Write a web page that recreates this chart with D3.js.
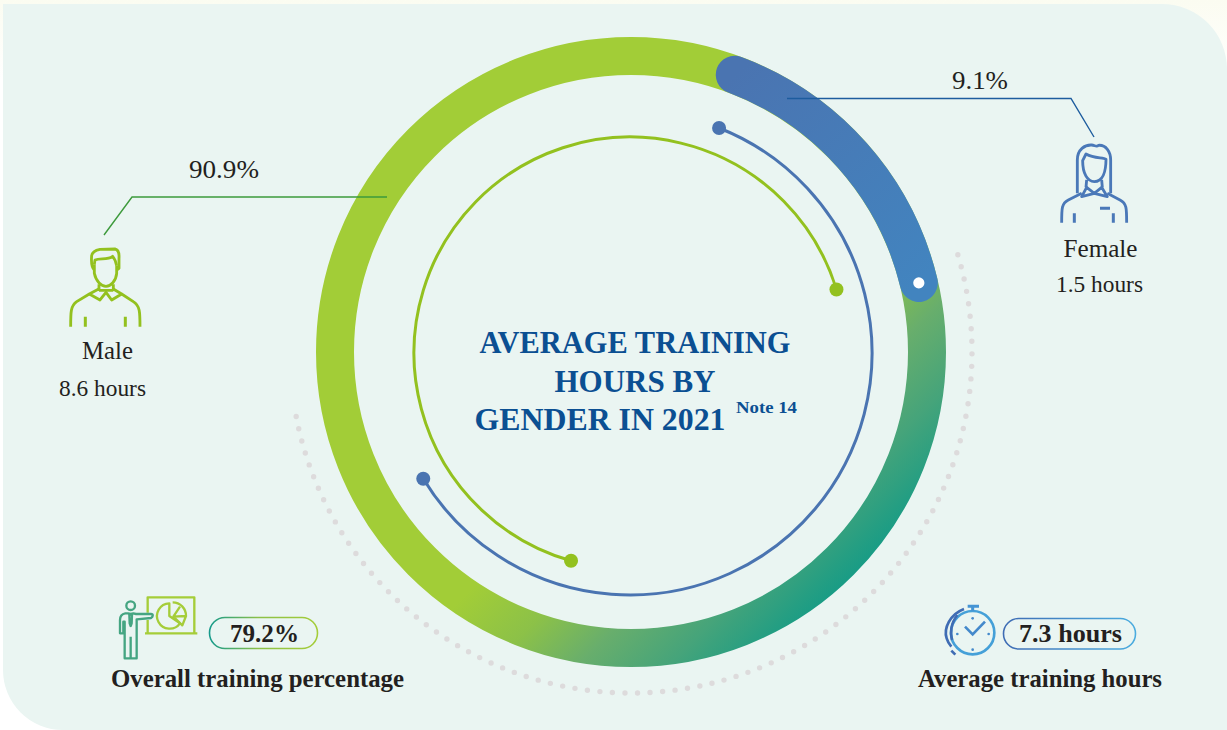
<!DOCTYPE html>
<html>
<head>
<meta charset="utf-8">
<script src="https://cdn.jsdelivr.net/npm/d3@7"></script>
<style>
  html, body { margin: 0; padding: 0; background: #fff; }
  svg { display: block; }
  text { font-family: "Liberation Serif", serif; fill: #231f20; }
</style>
</head>
<body>
<svg id="chart" width="1227" height="730"></svg>
<script>
'use strict'

var genders    = ["Male", "Female"]
var sharePct   = ["90.9%", "9.1%"]
var hoursLabel = ["8.6 hours", "1.5 hours"]
var titleLines = ["AVERAGE TRAINING", "HOURS BY", "GENDER IN 2021"]

// arcs, in turns clockwise from 12 o'clock
// (the ring is not drawn to scale with the percentages)
var ringFemaleTurns = [0.057, 0.2125]
var innerMaleTurns  = [0.544, 1.2025]
var innerFemaleTurns = [0.06, 0.663]
var dottedTurns     = [0.204, 0.72]

var svg = d3.select("#chart")
var defs = svg.append("defs")

function gradient(id, x1, y1, x2, y2, stops){
  let g = defs.append("linearGradient").attr("id", id)
    .attr("gradientUnits", "userSpaceOnUse")
    .attr("x1", x1).attr("y1", y1).attr("x2", x2).attr("y2", y2)
  stops.forEach(s => g.append("stop").attr("offset", s[0]).attr("stop-color", s[1]))
}

gradient("pageBg", 0, 0, 0, 80, [[0, "#fbfcf1"], [1, "#ffffff"]])
gradient("ringGreen", 530, 530, 725, 725, [[0, "#a2cd37"], [0.25, "#8cc148"], [0.47, "#68ae6c"], [0.7, "#46a47a"], [1, "#0e9a88"]])
gradient("ringBlue", 735, 75, 920, 282, [[0, "#4a74b1"], [1, "#4284bf"]])
gradient("pillGreen", 209, 0, 318, 0, [[0, "#149a8c"], [0.45, "#8cc048"], [1, "#a5cd39"]])
gradient("pillBlue", 1003, 0, 1136, 0, [[0, "#3f6cb4"], [1, "#4bacdf"]])

// background panel
svg.append("rect").attr("width", 1227).attr("height", 730).attr("fill", "url(#pageBg)")
svg.append("path")
  .attr("d", "M3,4 H1162 A65,65 0 0 1 1227,69 V730 H63 A60,60 0 0 1 3,670 Z")
  .attr("fill", "#eaf5f2")

var cx = 631, cy = 352
// the thin inner arcs sit a pixel off the big ring
var innerX = 630, innerY = 353
var turn = d3.scaleLinear().domain([0, 1]).range([-Math.PI / 2, 1.5 * Math.PI])

// open arc, so linecaps and dashes work
function arcPath(x, y, r, turns){
  let p = d3.path()
  p.arc(x, y, r, turn(turns[0]), turn(turns[1]))
  return p.toString()
}
function polar(x, y, r, t){
  return [x + r * Math.cos(turn(t)), y + r * Math.sin(turn(t))]
}

// dotted arc
svg.append("path")
  .attr("d", arcPath(cx, cy, 341, dottedTurns))
  .attr("fill", "none")
  .attr("stroke", "#dddbdc")
  .attr("stroke-width", 5.4)
  .attr("stroke-linecap", "round")
  .attr("stroke-dasharray", "0 12.55")

// main ring
svg.append("circle")
  .attr("cx", cx).attr("cy", cy).attr("r", 296)
  .attr("fill", "none")
  .attr("stroke", "url(#ringGreen)")
  .attr("stroke-width", 38)

svg.append("path")
  .attr("d", arcPath(cx, cy, 296, ringFemaleTurns))
  .attr("fill", "none")
  .attr("stroke", "url(#ringBlue)")
  .attr("stroke-width", 38)
  .attr("stroke-linecap", "round")

let whiteDot = polar(cx, cy, 296, ringFemaleTurns[1])
svg.append("circle")
  .attr("cx", whiteDot[0]).attr("cy", whiteDot[1]).attr("r", 5.6)
  .attr("fill", "#fff")

// inner thin arcs with a dot on each end
svg.append("path")
  .attr("d", arcPath(innerX, innerY, 216, innerMaleTurns))
  .attr("fill", "none").attr("stroke", "#93c11f").attr("stroke-width", 3)
svg.append("path")
  .attr("d", arcPath(innerX, innerY, 242, innerFemaleTurns))
  .attr("fill", "none").attr("stroke", "#4a74b1").attr("stroke-width", 3)

svg.selectAll("circle.m").data(innerMaleTurns).enter().append("circle")
  .attr("class", "m")
  .attr("cx", d => polar(innerX, innerY, 216, d)[0]).attr("cy", d => polar(innerX, innerY, 216, d)[1])
  .attr("r", 7).attr("fill", "#93c11f")
svg.selectAll("circle.f").data(innerFemaleTurns).enter().append("circle")
  .attr("class", "f")
  .attr("cx", d => polar(innerX, innerY, 242, d)[0]).attr("cy", d => polar(innerX, innerY, 242, d)[1])
  .attr("r", 7).attr("fill", "#4a74b1")

// leader lines
var line = d3.line()
svg.append("path").attr("d", line([[387, 197], [132, 197], [104, 235]]))
  .attr("fill", "none").attr("stroke", "#3d9a3c").attr("stroke-width", 1.4)
svg.append("path").attr("d", line([[787, 98.5], [1071, 98.5], [1094, 137]]))
  .attr("fill", "none").attr("stroke", "#1d5c9e").attr("stroke-width", 1.4)

function label(x, y, txt, size, opts){
  opts = opts || {}
  let t = svg.append("text")
    .attr("x", x).attr("y", y)
    .attr("text-anchor", opts.anchor || "middle")
    .attr("font-size", size)
    .attr("font-weight", opts.bold ? "bold" : "normal")
    .style("fill", opts.fill || "#231f20")
    .text(txt)
  if (opts.width) t.attr("textLength", opts.width).attr("lengthAdjust", "spacingAndGlyphs")
  return t
}

label(224, 178, sharePct[0], 26, {width: 70})
label(980, 89, sharePct[1], 26, {width: 56})
label(107.5, 359, genders[0], 24.5, {width: 51})
label(102.5, 396, hoursLabel[0], 23, {width: 87})
label(1100.5, 257, genders[1], 24.5, {width: 74})
label(1099.5, 292, hoursLabel[1], 23, {width: 87})

// title
var titleBlue = "#0b4f92"
label(635, 353, titleLines[0], 32, {bold: true, fill: titleBlue, width: 311})
label(635, 392, titleLines[1], 32, {bold: true, fill: titleBlue, width: 161})
label(600, 430, titleLines[2], 32, {bold: true, fill: titleBlue, width: 251})
label(766.5, 413, "Note 14", 17, {bold: true, fill: titleBlue, width: 61})

// male icon, coords from a 3x crop
var male = svg.append("g")
  .attr("transform", "translate(50,235) scale(0.3333)")
  .attr("fill", "none").attr("stroke", "#93c11f").attr("stroke-width", 8.5).attr("stroke-linejoin", "round")
male.append("path").attr("d", "M133,105 C122,95 124,75 125,62 C127,48 140,45 150,43 L195,42 C205,44 208,55 207,70 L207,100 L200,105")
male.append("path").attr("d", "M133,88 L135,75 C150,68 172,76 188,64 C195,72 198,82 200,92")
male.append("path").attr("d", "M133,88 L133,115 C138,140 155,154 168,154 C182,154 198,138 200,115 L200,92")
male.append("path").attr("d", "M147,148 L147,168 M190,148 L190,168 M147,166 L190,166")
male.append("path").attr("d", "M146,162 L118,177 L150,195 L168,172 L185,195 L215,177 L190,162")
male.append("path").attr("d", "M118,177 L80,200 C62,212 62,232 62,275 M215,177 L250,200 C270,212 270,232 270,275")
male.append("path").attr("d", "M106,245 V275 M226,245 V275").attr("stroke-width", 9)

// female icon
var female = svg.append("g")
  .attr("transform", "translate(1040,130) scale(0.3333)")
  .attr("fill", "none").attr("stroke", "#4a78b8").attr("stroke-width", 8.5).attr("stroke-linejoin", "round")
female.append("path").attr("d", "M112,190 L112,90 C112,58 135,44 155,45 C165,46 170,52 175,46 C198,44 212,65 212,90 L212,190")
female.append("path").attr("d", "M128,92 C128,130 142,155 163,155 C188,155 198,125 198,88 C190,80 165,88 138,72 Z")
female.append("path").attr("d", "M140,150 L138,172 M185,150 L187,172")
female.append("path").attr("d", "M125,200 L140,172 L163,190 L185,172 L202,200 L163,190 Z")
female.append("path").attr("d", "M125,190 L85,210 C65,220 65,235 65,278 M202,190 L240,210 C260,220 260,235 260,278")
female.append("path").attr("d", "M103,250 V278 M220,250 V278 M180,235 H210").attr("stroke-width", 9)

// presenter icon
var presenter = svg.append("g")
  .attr("transform", "translate(100,590) scale(0.3333)")
  .attr("fill", "none").attr("stroke-width", 7).attr("stroke-linejoin", "round")
presenter.append("path").attr("d", "M143,68 V22 H283 V130 M135,130 H292 M143,90 V130").attr("stroke", "#a5cd39")
presenter.append("path").attr("d", "M208,40 A38,38 0 1 0 240,100 L208,78 Z").attr("stroke", "#a5cd39")
presenter.append("path").attr("d", "M218,37 A40,40 0 0 1 258,78 L247,106 L220,80 L240,50 M220,80 L258,78").attr("stroke", "#a5cd39")
let fig = presenter.append("g").attr("stroke", "#45a582")
fig.append("circle").attr("cx", 92).attr("cy", 47).attr("r", 13)
fig.append("path").attr("d", "M76,70 C64,72 60,80 60,90 L60,130 L70,130 L70,95 L74,95 L74,205 L110,205 L110,110 L110,88 L153,84 C160,80 160,72 153,72 L108,72 L100,70 L92,72 L84,70 Z")
fig.append("path").attr("d", "M92,140 V205 M88,74 L96,74 L95,100 L92,108 L89,100 Z")

// clock icon
var clock = svg.append("g")
  .attr("transform", "translate(930,595) scale(0.3333)")
  .attr("fill", "none").attr("stroke", "#4489cb").attr("stroke-width", 8)
clock.append("circle").attr("cx", 128).attr("cy", 113).attr("r", 65).attr("stroke", "#45a0d8")
clock.append("path").attr("d", "M128,35 V48 M113,34 H147").attr("stroke-width", 9).attr("stroke", "#4594d4")
clock.append("path").attr("d", "M102,42 C60,58 40,100 50,130 C53,140 58,148 64,155 M64,167 L76,179").attr("stroke", "#3f6cb4")
clock.append("path").attr("d", "M82,60 C62,85 60,115 66,135").attr("stroke", "#3f6cb4")
clock.append("path").attr("d", "M105,95 L128,118 L165,80")
clock.selectAll("circle.tick").data([[128, 70], [128, 164], [82, 117], [176, 117]]).enter()
  .append("circle").attr("class", "tick")
  .attr("cx", d => d[0]).attr("cy", d => d[1]).attr("r", 4).attr("stroke", "none").attr("fill", "#4489cb")

// pills
svg.append("rect").attr("x", 209.5).attr("y", 617.5).attr("width", 108).attr("height", 31).attr("rx", 15.5)
  .attr("fill", "none").attr("stroke", "url(#pillGreen)").attr("stroke-width", 1.6)
svg.append("rect").attr("x", 1003.5).attr("y", 618.5).attr("width", 132).attr("height", 30.5).attr("rx", 15.2)
  .attr("fill", "none").attr("stroke", "url(#pillBlue)").attr("stroke-width", 1.6)

label(264.5, 642, "79.2%", 24.5, {bold: true, width: 69})
label(1070.5, 642, "7.3 hours", 25, {bold: true, width: 103})
label(257.5, 687, "Overall training percentage", 24.5, {bold: true, width: 293})
label(1040, 687, "Average training hours", 24.5, {bold: true, width: 244})
</script>
</body>
</html>
